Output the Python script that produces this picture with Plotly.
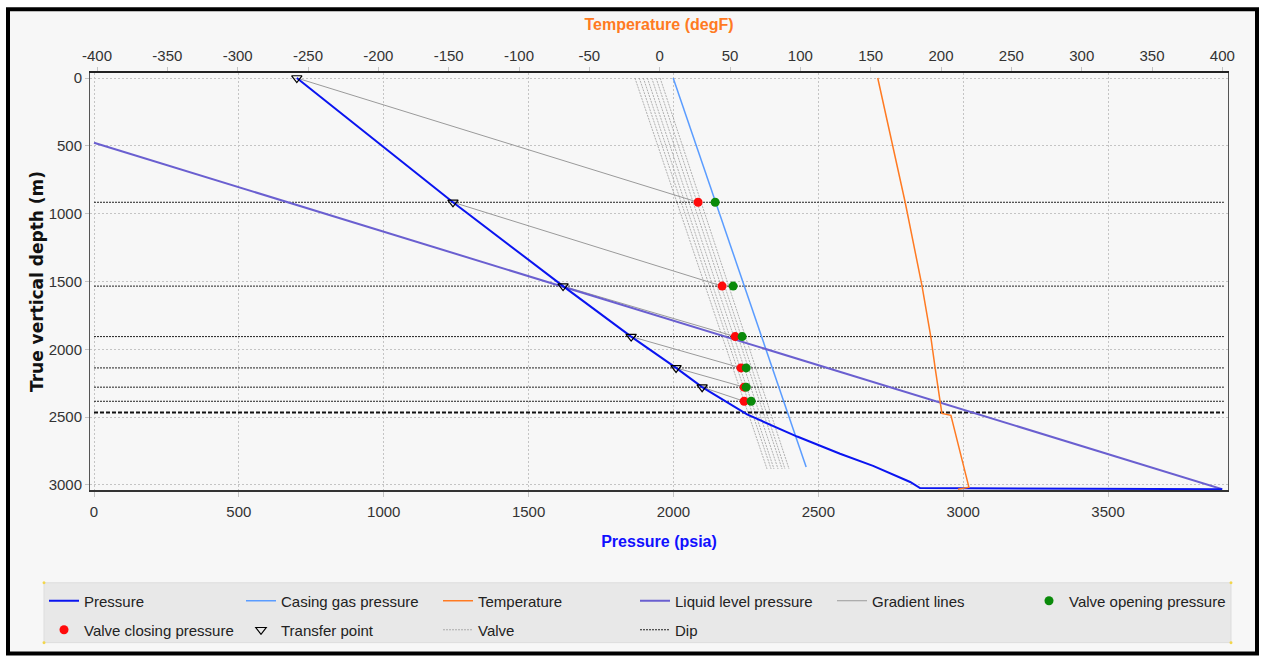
import plotly.graph_objects as go

# ---------------- data ----------------
pressure_psia = [700, 1239, 1619, 1854, 2009, 2099, 2254, 2427, 2575, 2689, 2817, 2851, 3894]
pressure_depth = [0, 916, 1534, 1906, 2137, 2279, 2480, 2643, 2770, 2859, 2978, 3023, 3031]

casing_psia = [1999, 2458]
casing_depth = [0, 2867]

temp_degF = [155, 174.5, 186.5, 192.7, 195.8, 200.6, 207, 219.8, 212]
temp_depth = [0, 916, 1534, 1906, 2137, 2472, 2487, 3016, 3031]

liquid_psia = [0, 3894]
liquid_depth = [477, 3031]

valve_depth = [916, 1534, 1906, 2137, 2279, 2383]
valve_closing_psia = [2085, 2168, 2213, 2233, 2244, 2244]
valve_opening_psia = [2144, 2206, 2237, 2251, 2251, 2268]

transfer_psia = [700, 1239, 1619, 1854, 2009, 2099]
transfer_depth = [0, 916, 1534, 1906, 2137, 2279]

valve_grad_top_psia = [1867, 1882, 1896, 1910, 1925, 1940, 1954]
valve_grad_bottom_psia = [2323, 2337, 2347, 2361, 2375, 2385, 2399]
valve_grad_depth = [0, 2882]

dip_depth = 2465
line_extent_psia = [0, 3900]

press_ticks = [0, 500, 1000, 1500, 2000, 2500, 3000, 3500]
temp_ticks = [-400, -350, -300, -250, -200, -150, -100, -50, 0, 50, 100, 150, 200, 250, 300, 350, 400]
temp_tick_labels = ["-400", "-350", "-300", "-250", "-200", "-150", "-100", "-50", "0",
                    "50", "100", "150", "200", "250", "300", "350", "400"]
depth_ticks = [0, 500, 1000, 1500, 2000, 2500, 3000]

# ---------------- layout helpers ----------------
W, H = 1263, 657
L, R, T, B = 90, 1228, 73, 491


def px(x):
    return (x - L) / (R - L)


def py(y):
    return (B - y) / (B - T)


FONT = "Liberation Sans, Arial, sans-serif"

fig = go.Figure()

vx, vy = [], []
for a, b in zip(valve_grad_top_psia, valve_grad_bottom_psia):
    vx += [a, b, None]
    vy += [valve_grad_depth[0], valve_grad_depth[1], None]

hx, hy = [], []
for d in valve_depth:
    hx += [line_extent_psia[0], line_extent_psia[1], None]
    hy += [d, d, None]

gx, gy = [], []
for p0, d0, p1, d1 in zip(transfer_psia, transfer_depth, valve_closing_psia, valve_depth):
    gx += [p0, p1, None]
    gy += [d0, d1, None]

# drawing order: background lines first
fig.add_trace(go.Scatter(x=vx, y=vy, mode="lines", name="Valve", legendrank=9,
                         line=dict(color="#9c9c9c", width=0.8, dash="2px,1px"), legend="legend2"))
fig.add_trace(go.Scatter(x=hx, y=hy, mode="lines", name="Dip", legendrank=10,
                         line=dict(color="#222222", width=1, dash="2px,1px"), legend="legend2"))
fig.add_trace(go.Scatter(x=line_extent_psia, y=[dip_depth, dip_depth], mode="lines", showlegend=False,
                         line=dict(color="#111111", width=2, dash="4px,2px")))
fig.add_trace(go.Scatter(x=gx, y=gy, mode="lines", name="Gradient lines", legendrank=5,
                         line=dict(color="#9a9a9a", width=1), legend="legend"))
fig.add_trace(go.Scatter(x=casing_psia, y=casing_depth, mode="lines", name="Casing gas pressure", legendrank=2,
                         line=dict(color="#5a9cff", width=1.5), legend="legend"))
fig.add_trace(go.Scatter(x=temp_degF, y=temp_depth, mode="lines", name="Temperature", xaxis="x2", legendrank=3,
                         line=dict(color="#ff7a22", width=1.5), legend="legend"))
fig.add_trace(go.Scatter(x=liquid_psia, y=liquid_depth, mode="lines", name="Liquid level pressure", legendrank=4,
                         line=dict(color="#6a5fd0", width=2), legend="legend"))
fig.add_trace(go.Scatter(x=pressure_psia, y=pressure_depth, mode="lines", name="Pressure", legendrank=1,
                         line=dict(color="#0a14f0", width=2), legend="legend"))
fig.add_trace(go.Scatter(x=transfer_psia, y=transfer_depth, mode="markers", name="Transfer point", legendrank=8,
                         marker=dict(color="black", size=9, symbol="triangle-down-open",
                                     line=dict(width=1.2)), legend="legend2"))
fig.add_trace(go.Scatter(x=valve_closing_psia, y=valve_depth, mode="markers", name="Valve closing pressure",
                         legendrank=7, marker=dict(color="#ff0a0a", size=9, symbol="circle"), legend="legend2"))
fig.add_trace(go.Scatter(x=valve_opening_psia, y=valve_depth, mode="markers", name="Valve opening pressure",
                         legendrank=6, marker=dict(color="#0a8a0a", size=9, symbol="circle"), legend="legend"))

axis_font = dict(family=FONT, size=15, color="#333333")
grid = dict(showgrid=True, gridcolor="#c4c4c4", griddash="2px,2px", gridwidth=1)
legend_common = dict(orientation="h", x=px(44), xanchor="left", yanchor="middle",
                     bgcolor="rgba(0,0,0,0)", entrywidth=152, entrywidthmode="pixels",
                     font=dict(family=FONT, size=15, color="#222222"), itemwidth=30, traceorder="normal")

corner_dots = []
for cx, cy in [(44, 584), (1231, 584), (44, 644), (1231, 644)]:
    corner_dots.append(dict(type="circle", xref="paper", yref="paper",
                            x0=px(cx - 1.5), x1=px(cx + 1.5), y0=py(cy + 1.5), y1=py(cy - 1.5),
                            fillcolor="#f2d64b", line=dict(width=0), layer="above"))

fig.update_layout(
    width=W, height=H,
    margin=dict(l=L, r=W - R, t=T, b=H - B),
    paper_bgcolor="white",
    plot_bgcolor="#fafafa",
    xaxis=dict(range=[-13.8, 3914], tickvals=press_ticks, ticks="outside", ticklen=5,
               tickcolor="#c4c4c4", tickfont=axis_font, showline=True, linecolor="#333333",
               linewidth=1.5, mirror=False, zeroline=False, ticklabelstandoff=2,
               title=dict(text="<b>Pressure (psia)</b>", standoff=17,
                          font=dict(family=FONT, size=16, color="#1010ff")), **grid),
    xaxis2=dict(range=[-405, 404], tickvals=temp_ticks, ticktext=temp_tick_labels, overlaying="x", side="top",
                ticks="outside", ticklen=4, tickcolor="#c4c4c4", tickfont=axis_font, showgrid=False,
                zeroline=False, showline=True, linecolor="#222222", linewidth=1.5,
                title=dict(text="<b>Temperature (degF)</b>", standoff=13,
                           font=dict(family=FONT, size=16, color="#ff7a22"))),
    yaxis=dict(range=[3037, -37], tickvals=depth_ticks, ticks="outside", ticklen=4, tickcolor="#c4c4c4",
               tickfont=axis_font, showline=True, linecolor="#555555", linewidth=1, mirror=True,
               zeroline=False,
               title=dict(text="<b>True vertical depth (m)</b>", standoff=0,
                          font=dict(family="DejaVu Sans, sans-serif", size=17, color="#111111")), **grid),
    legend=dict(y=py(601), **legend_common),
    legend2=dict(y=py(630), **legend_common),
    shapes=[
        dict(type="rect", xref="paper", yref="paper", x0=px(8), x1=px(1257), y0=py(655), y1=py(9),
             fillcolor="#f7f7f7", line=dict(color="black", width=4), layer="below"),
        dict(type="rect", xref="paper", yref="paper", x0=px(44), x1=px(1231), y0=py(644), y1=py(584),
             fillcolor="#e8e8e8", line=dict(color="#dddddd", width=1), layer="below"),
    ] + corner_dots,
)

fig.write_html("out.html")
